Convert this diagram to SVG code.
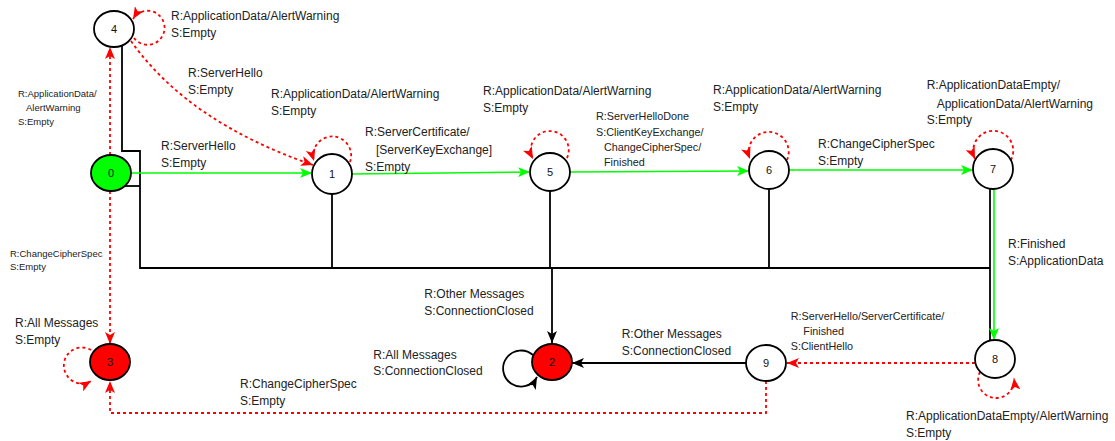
<svg xmlns="http://www.w3.org/2000/svg" width="1115" height="441" viewBox="0 0 1115 441">
<style>
.node ellipse{stroke:#000;stroke-width:1.8;fill:#fff}
.node text{font-family:"Liberation Sans",Arial,sans-serif;font-size:11px;fill:#111;text-anchor:middle}
.lbl{font-family:"Liberation Sans",Arial,sans-serif;font-size:12px;fill:#222}
.sm{font-size:9.5px}
.md{font-size:10.8px}
.g{stroke:#00ff00;stroke-width:1.6;fill:none}
.k{stroke:#000;stroke-width:1.8;fill:none}
.r{stroke:#ff0000;stroke-width:1.8;fill:none;stroke-dasharray:3 3}
</style>
<defs>
<marker id="ag" markerUnits="userSpaceOnUse" markerWidth="12" markerHeight="10" viewBox="0 0 12 10" refX="12" refY="5" orient="auto"><path d="M0,0 L12,5 L0,10 L3,5 Z" fill="#00ff00"/></marker>
<marker id="ak" markerUnits="userSpaceOnUse" markerWidth="12" markerHeight="10" viewBox="0 0 12 10" refX="12" refY="5" orient="auto"><path d="M0,0 L12,5 L0,10 L3,5 Z" fill="#000"/></marker>
<marker id="ar" markerUnits="userSpaceOnUse" markerWidth="12" markerHeight="10" viewBox="0 0 12 10" refX="12" refY="5" orient="auto"><path d="M0,0 L12,5 L0,10 L3,5 Z" fill="#ff0000"/></marker>
</defs>
<g id="connectors">
<path class="k" d="M122,46 L122,151 L140,151 L140,268 L990,268"/>
<path class="k" d="M125,186 L140,186"/>
<path class="k" d="M332,194 L332,268"/>
<path class="k" d="M550,191 L550,268"/>
<path class="k" d="M769,190 L769,268"/>
<path class="k" d="M990,189 L990,341"/>
<path class="k" d="M552,268 L552,343" marker-end="url(#ak)"/>
<path class="k" d="M746,363 L572,363" marker-end="url(#ak)"/>
<path class="k" d="M533,355 A18,18 0 1,0 537,377" marker-end="url(#ak)"/>
<path class="g" d="M131,173 L312,173" marker-end="url(#ag)"/>
<path class="g" d="M352,174 L530,172" marker-end="url(#ag)"/>
<path class="g" d="M570,172 L749,171" marker-end="url(#ag)"/>
<path class="g" d="M789,170 L973,170" marker-end="url(#ag)"/>
<path class="g" d="M994,189 L994,340" marker-end="url(#ag)"/>
<path class="r" d="M110,155 L110,47" marker-end="url(#ar)"/>
<path class="r" d="M110,191 L110,344" marker-end="url(#ar)"/>
<path class="r" d="M131,41 Q188,122 313,165" marker-end="url(#ar)"/>
<path class="r" d="M134,38 A17,17 0 1,0 133,19" marker-end="url(#ar)"/>
<path class="r" d="M350,162 A19,19 0 1,0 314,161" marker-end="url(#ar)"/>
<path class="r" d="M567,158 A19,19 0 1,0 533,159" marker-end="url(#ar)"/>
<path class="r" d="M787,160 A20,20 0 1,0 750,159" marker-end="url(#ar)"/>
<path class="r" d="M1011,160 A20,20 0 1,0 975,159" marker-end="url(#ar)"/>
<path class="r" d="M980,372 A18,18 0 1,0 1014,378" marker-end="url(#ar)"/>
<path class="r" d="M91,350 A18,18 0 1,0 91,381" marker-end="url(#ar)"/>
<path class="r" d="M975,363 L787,363" marker-end="url(#ar)"/>
<path class="r" d="M766,381 L766,413 L110,413 L110,381" marker-end="url(#ar)"/>
</g>
<g id="node0" class="node"><ellipse cx="111" cy="173" rx="20" ry="18" style="fill:#00ff00"/><text x="111" y="177">0</text></g>
<g id="node1" class="node"><ellipse cx="332" cy="174" rx="20" ry="20"/><text x="332" y="178">1</text></g>
<g id="node2" class="node"><ellipse cx="552" cy="362" rx="20" ry="18" style="fill:#ff0000"/><text x="552" y="366">2</text></g>
<g id="node3" class="node"><ellipse cx="110" cy="362" rx="20" ry="18" style="fill:#ff0000"/><text x="110" y="366">3</text></g>
<g id="node4" class="node"><ellipse cx="114" cy="29" rx="20" ry="18"/><text x="114" y="33">4</text></g>
<g id="node5" class="node"><ellipse cx="550" cy="172" rx="20" ry="19"/><text x="550" y="176">5</text></g>
<g id="node6" class="node"><ellipse cx="769" cy="170" rx="20" ry="19"/><text x="769" y="174">6</text></g>
<g id="node7" class="node"><ellipse cx="993" cy="169" rx="20" ry="20"/><text x="993" y="173">7</text></g>
<g id="node8" class="node"><ellipse cx="995" cy="359" rx="20" ry="19"/><text x="995" y="363">8</text></g>
<g id="node9" class="node"><ellipse cx="766" cy="363" rx="20" ry="18"/><text x="766" y="367">9</text></g>
<g id="labels">
<text class="lbl" x="171" y="19.5">R:ApplicationData/AlertWarning</text>
<text class="lbl" x="171" y="37">S:Empty</text>
<text class="lbl sm" x="18" y="96.6">R:ApplicationData/</text>
<text class="lbl sm" x="26" y="110.6">AlertWarning</text>
<text class="lbl sm" x="18" y="124.6">S:Empty</text>
<text class="lbl" x="188" y="76.5">R:ServerHello</text>
<text class="lbl" x="188" y="93.5">S:Empty</text>
<text class="lbl" x="271" y="97.5">R:ApplicationData/AlertWarning</text>
<text class="lbl" x="271" y="114.5">S:Empty</text>
<text class="lbl" x="161" y="149.5">R:ServerHello</text>
<text class="lbl" x="161" y="166.5">S:Empty</text>
<text class="lbl" x="365" y="136">R:ServerCertificate/</text>
<text class="lbl" x="376" y="153.5">[ServerKeyExchange]</text>
<text class="lbl" x="365" y="171">S:Empty</text>
<text class="lbl" x="483" y="95">R:ApplicationData/AlertWarning</text>
<text class="lbl" x="483" y="112">S:Empty</text>
<text class="lbl md" x="596" y="119.6">R:ServerHelloDone</text>
<text class="lbl md" x="596" y="135.6">S:ClientKeyExchange/</text>
<text class="lbl md" x="604" y="150.6">ChangeCipherSpec/</text>
<text class="lbl md" x="604" y="165.6">Finished</text>
<text class="lbl" x="713" y="94.3">R:ApplicationData/AlertWarning</text>
<text class="lbl" x="713" y="111">S:Empty</text>
<text class="lbl" x="818" y="148.3">R:ChangeCipherSpec</text>
<text class="lbl" x="818" y="165.3">S:Empty</text>
<text class="lbl" x="926.7" y="89.3">R:ApplicationDataEmpty/</text>
<text class="lbl" x="936.7" y="107.6">ApplicationData/AlertWarning</text>
<text class="lbl" x="926.7" y="124.3">S:Empty</text>
<text class="lbl" x="1008" y="247.6">R:Finished</text>
<text class="lbl" x="1008" y="265.3">S:ApplicationData</text>
<text class="lbl" x="906" y="420">R:ApplicationDataEmpty/AlertWarning</text>
<text class="lbl" x="906" y="436.6">S:Empty</text>
<text class="lbl md" x="790.7" y="320">R:ServerHello/ServerCertificate/</text>
<text class="lbl md" x="803.3" y="334.6">Finished</text>
<text class="lbl md" x="790.7" y="350">S:ClientHello</text>
<text class="lbl" x="621.7" y="338.3">R:Other Messages</text>
<text class="lbl" x="621.7" y="355.3">S:ConnectionClosed</text>
<text class="lbl" x="424.3" y="298.3">R:Other Messages</text>
<text class="lbl" x="424.3" y="315">S:ConnectionClosed</text>
<text class="lbl" x="373.3" y="358.6">R:All Messages</text>
<text class="lbl" x="373.3" y="375.3">S:ConnectionClosed</text>
<text class="lbl sm" x="10" y="257">R:ChangeCipherSpec</text>
<text class="lbl sm" x="10" y="270.3">S:Empty</text>
<text class="lbl" x="15" y="327">R:All Messages</text>
<text class="lbl" x="15" y="344.3">S:Empty</text>
<text class="lbl" x="240" y="387.6">R:ChangeCipherSpec</text>
<text class="lbl" x="240" y="405">S:Empty</text>
</g>
</svg>
